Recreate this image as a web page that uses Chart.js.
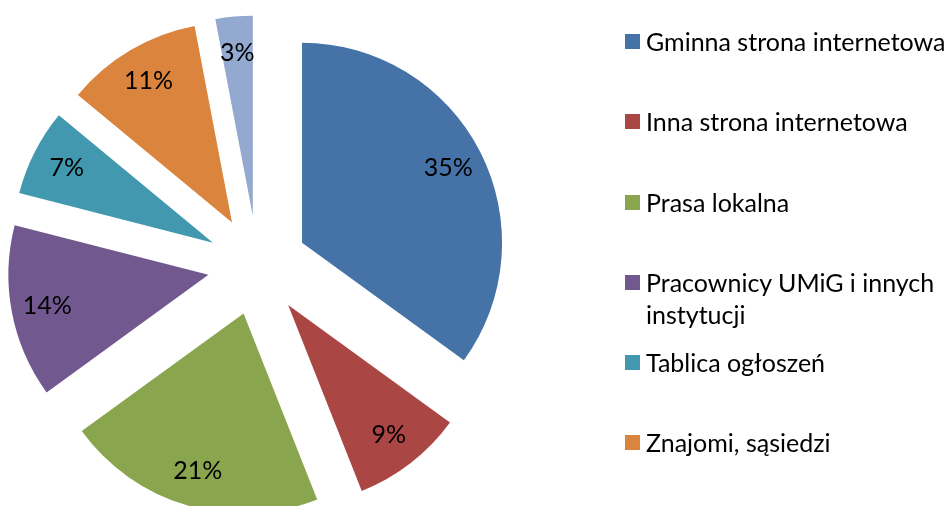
<!DOCTYPE html>
<html>
<head>
<meta charset="utf-8">
<script src="https://cdn.jsdelivr.net/npm/chart.js@4/dist/chart.umd.min.js"></script>
<style>
  html, body { margin: 0; padding: 0; background: #fff; }
  #wrap { position: relative; width: 948px; height: 506px; overflow: hidden; }
  #chart { position: absolute; left: 0; top: 0; }
  #legend { position: absolute; left: 625px; top: 25px; font-family: Lato, sans-serif; font-size: 25px; color: #000; }
  .item { display: flex; align-items: flex-start; height: 80.3px; line-height: 32px; white-space: nowrap; }
  .box { width: 15px; height: 15px; margin-top: 9px; margin-right: 6px; flex: none; }
</style>
</head>
<body>
<div id="wrap">
  <canvas id="chart" width="948" height="506"></canvas>
  <div id="legend"></div>
</div>
<script>
// Źródła informacji — wykres kołowy (rozsunięty)
const labels = [
  "Gminna strona internetowa",
  "Inna strona internetowa",
  "Prasa lokalna",
  ["Pracownicy UMiG i innych", "instytucji"],
  "Tablica ogłoszeń",
  "Znajomi, sąsiedzi",
  "Inne",
];
const values = [35, 9, 21, 14, 7, 11, 3];
const colors = ["#4572A7", "#AA4643", "#89A54E", "#71588F", "#4198AF", "#DB843D", "#93A9CF"];

const EXPLODE = 50;    // rozsunięcie wycinków od środka (px)
const LABEL_POS = 0.82; // położenie etykiety jako ułamek promienia

// legenda w HTML (tekst zawija się jak w oryginale)
document.getElementById("legend").innerHTML = labels.map((l, i) => `
  <div class="item"><span class="box" style="background:${colors[i]}"></span>
  <span>${Array.isArray(l) ? l.join("<br>") : l}</span></div>`).join("");

// każdy wycinek przesuwamy o tę samą odległość wzdłuż dwusiecznej
// (wbudowany offset Chart.js dodatkowo zmienia promień i kąt małych wycinków)
const explode = {
  id: "explode",
  afterDatasetUpdate(chart, args) {
    args.meta.data.forEach((arc) => {
      const mid = (arc.startAngle + arc.endAngle) / 2;
      arc.x += Math.cos(mid) * EXPLODE;
      arc.y += Math.sin(mid) * EXPLODE;
    });
  },
};

// etykiety procentowe wewnątrz wycinków
const pctLabels = {
  id: "pctLabels",
  afterDatasetsDraw(chart) {
    const { ctx } = chart;
    const meta = chart.getDatasetMeta(0);
    ctx.save();
    ctx.font = "25px Lato";
    ctx.fillStyle = "#000";
    ctx.textAlign = "center";
    ctx.textBaseline = "middle";
    meta.data.forEach((arc, i) => {
      const { x, y, startAngle, endAngle, outerRadius } = arc;
      const mid = (startAngle + endAngle) / 2;
      const d = outerRadius * LABEL_POS;
      ctx.fillText(values[i] + "%", x + Math.cos(mid) * d, y + Math.sin(mid) * d);
    });
    ctx.restore();
  },
};

new Chart(document.getElementById("chart"), {
  type: "pie",
  data: {
    labels: labels,
    datasets: [{
      data: values,
      backgroundColor: colors,
      borderWidth: 0,
      radius: 200,
      clip: false,
      offset: 0,
      hoverOffset: 0,
    }],
  },
  options: {
    responsive: false,
    devicePixelRatio: 1,
    animation: false,
    events: [],
    layout: { padding: { left: 0, right: 433, top: 25, bottom: 0 } },
    plugins: {
      legend: { display: false },
      tooltip: { enabled: false },
    },
  },
  plugins: [explode, pctLabels],
});
</script>
</body>
</html>
